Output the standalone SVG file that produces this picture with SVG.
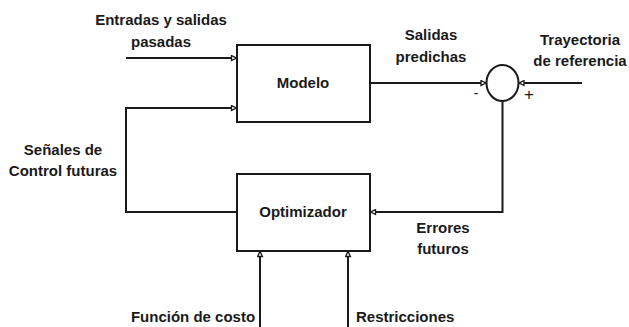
<svg xmlns="http://www.w3.org/2000/svg" width="629" height="327" viewBox="0 0 629 327">
<defs>
<style>
.box{fill:#fff;stroke:#1a1a1a;stroke-width:2}
.ln{fill:none;stroke:#1a1a1a;stroke-width:2;marker-end:url(#ah)}
text{font-family:"Liberation Sans",Arial,sans-serif;font-weight:bold;font-size:15px;fill:#1a1a1a;text-anchor:middle}
</style>
<marker id="ah" viewBox="0 0 8 8" refX="7.5" refY="4" markerWidth="7" markerHeight="7" orient="auto" markerUnits="userSpaceOnUse">
<path d="M1.2,1.2 L7,4 L1.2,6.8 Z" fill="#fff" stroke="#1a1a1a" stroke-width="1.5"/>
</marker>
</defs>
<rect width="629" height="327" fill="#fff"/>
<g id="connectors">
<path class="ln" d="M126,58 H237"/>
<path class="ln" d="M237,212 H126 V108 H237"/>
<path class="ln" d="M370,83 H486.5"/>
<path class="ln" d="M582,83 H518.5"/>
<path class="ln" d="M502.5,101 V212 H370"/>
<path class="ln" d="M260,327 V251"/>
<path class="ln" d="M348,327 V251"/>
</g>
<g id="modelo">
<rect class="box" x="237" y="45" width="133" height="77"/>
<text x="303" y="88">Modelo</text>
</g>
<g id="optimizador">
<rect class="box" x="237" y="174" width="133" height="77"/>
<text x="303" y="217">Optimizador</text>
</g>
<g id="sumador">
<ellipse cx="502.5" cy="83" rx="16" ry="18" fill="#fff" stroke="#1a1a1a" stroke-width="2"/>
<text x="476" y="98" style="font-weight:normal;font-size:14px">-</text>
<text x="529" y="100" style="font-weight:normal;font-size:17px">+</text>
</g>
<g id="labels">
<text x="161" y="25">Entradas y salidas</text>
<text x="161" y="47">pasadas</text>
<text x="431" y="40">Salidas</text>
<text x="431" y="62">predichas</text>
<text x="580" y="45">Trayectoria</text>
<text x="580" y="66">de referencia</text>
<text x="63" y="155">Señales de</text>
<text x="63" y="176">Control futuras</text>
<text x="443" y="233">Errores</text>
<text x="443" y="254">futuros</text>
<text x="193" y="322">Función de costo</text>
<text x="356" y="322" style="text-anchor:start">Restricciones</text>
</g>
</svg>
